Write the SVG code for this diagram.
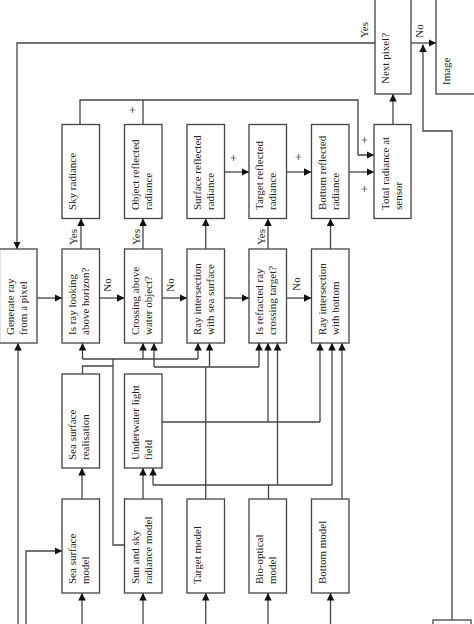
<svg xmlns="http://www.w3.org/2000/svg" width="474" height="624" viewBox="0 0 474 624">
<style>
.b{fill:#fff;stroke:#444;stroke-width:1.3}
.c{fill:none;stroke:#444;stroke-width:1.3}
.a{marker-end:url(#ah)}
text{font-family:"Liberation Serif","Times New Roman",serif;font-size:11px;fill:#222}
.m{text-anchor:middle}
.p{text-anchor:middle;font-size:12.5px}
</style>
<defs>
<marker id="ah" viewBox="0 0 8 8" refX="8" refY="4" markerWidth="7.5" markerHeight="7.5" markerUnits="userSpaceOnUse" orient="auto">
<path d="M0,0 L8,4 L0,8 Z" fill="#111"/>
</marker>
</defs>
<rect width="474" height="624" fill="#fff"/>
<g id="connectors">
<path class="c a" d="M375,43 H17 V249"/>
<path class="c a" d="M411,43 H436"/>
<path class="c a" d="M452,620 V131 H423 V44.5"/>
<path class="c a" d="M393,124.5 V94"/>
<path class="c a" d="M80,124.5 V100 H358 V155 H374"/>
<path class="c" d="M143,124.5 V100"/>
<path class="c a" d="M224.5,172 H249"/>
<path class="c a" d="M286.5,172 H311.5"/>
<path class="c a" d="M349,172 H374"/>
<path class="c a" d="M81,249 V218.5"/>
<path class="c a" d="M143,249 V218.5"/>
<path class="c a" d="M205.75,249 V218.5"/>
<path class="c a" d="M268,249 V218.5"/>
<path class="c a" d="M330.5,249 V218.5"/>
<path class="c a" d="M37,298 H62"/>
<path class="c a" d="M99.5,298 H124.5"/>
<path class="c a" d="M162,298 H187"/>
<path class="c a" d="M224.5,298 H249"/>
<path class="c a" d="M286.5,298 H311.5"/>
<path class="c" d="M124.5,545 H113 V359"/>
<path class="c" d="M82.5,359 H198"/>
<path class="c a" d="M82.5,359 V343"/>
<path class="c a" d="M143,359 V343"/>
<path class="c a" d="M198,359 V343"/>
<path class="c" d="M82.5,374 V366 H113"/>
<path class="c" d="M205.75,499 V367"/>
<path class="c" d="M154,367 H259"/>
<path class="c a" d="M154,367 V343"/>
<path class="c a" d="M209.5,367 V343"/>
<path class="c a" d="M259,367 V343"/>
<path class="c" d="M162,422 H320"/>
<path class="c a" d="M268,422 V343"/>
<path class="c a" d="M320,422 V343"/>
<path class="c" d="M268.5,499 V485"/>
<path class="c" d="M153,485 H332"/>
<path class="c a" d="M153,485 V468"/>
<path class="c a" d="M277.5,485 V343"/>
<path class="c a" d="M332,485 V343"/>
<path class="c a" d="M342,499 V343"/>
<path class="c a" d="M82,499 V468"/>
<path class="c a" d="M143,499 V468"/>
<path class="c a" d="M82,624 V593"/>
<path class="c a" d="M143,624 V593"/>
<path class="c a" d="M205.75,624 V593"/>
<path class="c a" d="M268,624 V593"/>
<path class="c a" d="M330.5,624 V593"/>
<path class="c a" d="M18,624 V343"/>
<path class="c a" d="M26,624 V551 H62"/>
<text transform="translate(368,30) rotate(-90)" class="m">Yes</text>
<text transform="translate(423,31) rotate(-90)" class="m">No</text>
<text transform="translate(77,237) rotate(-90)" class="m">Yes</text>
<text transform="translate(140,237) rotate(-90)" class="m">Yes</text>
<text transform="translate(265,237) rotate(-90)" class="m">Yes</text>
<text transform="translate(111,285) rotate(-90)" class="m">No</text>
<text transform="translate(174,285) rotate(-90)" class="m">No</text>
<text transform="translate(300,284) rotate(-90)" class="m">No</text>
<text transform="translate(137,110) rotate(-90)" class="p">+</text>
<text transform="translate(238,158) rotate(-90)" class="p">+</text>
<text transform="translate(303,157) rotate(-90)" class="p">+</text>
<text transform="translate(369,140) rotate(-90)" class="p">+</text>
<text transform="translate(369,189) rotate(-90)" class="p">+</text>
</g>
<g id="sky-radiance"><rect class="b" x="62" y="124.5" width="37.5" height="94"/><text transform="translate(76,210) rotate(-90)">Sky radiance</text></g>
<g id="object-reflected"><rect class="b" x="124.5" y="124.5" width="37.5" height="94"/><text transform="translate(139,210) rotate(-90)"><tspan x="0" y="0">Object reflected</tspan><tspan x="0" y="13">radiance</tspan></text></g>
<g id="surface-reflected"><rect class="b" x="187" y="124.5" width="37.5" height="94"/><text transform="translate(201,210) rotate(-90)"><tspan x="0" y="0">Surface reflected</tspan><tspan x="0" y="13">radiance</tspan></text></g>
<g id="target-reflected"><rect class="b" x="249" y="124.5" width="37.5" height="94"/><text transform="translate(263,210) rotate(-90)"><tspan x="0" y="0">Target reflected</tspan><tspan x="0" y="13">radiance</tspan></text></g>
<g id="bottom-reflected"><rect class="b" x="311.5" y="124.5" width="37.5" height="94"/><text transform="translate(325.5,210) rotate(-90)"><tspan x="0" y="0">Bottom reflected</tspan><tspan x="0" y="13">radiance</tspan></text></g>
<g id="total-radiance"><rect class="b" x="374" y="124.5" width="37" height="94"/><text transform="translate(388.5,210) rotate(-90)"><tspan x="0" y="0">Total radiance at</tspan><tspan x="0" y="13">sensor</tspan></text></g>
<g id="next-pixel"><rect class="b" x="375" y="-2" width="36" height="96"/><text transform="translate(389,84) rotate(-90)">Next pixel?</text></g>
<g id="image"><rect class="b" x="436" y="-2" width="45" height="96"/><text transform="translate(450,85) rotate(-90)">Image</text></g>
<g id="generate-ray"><rect class="b" x="-0.5" y="249" width="37.5" height="94"/><text transform="translate(13.5,335) rotate(-90)"><tspan x="0" y="0">Generate  ray</tspan><tspan x="0" y="13">from a pixel</tspan></text></g>
<g id="above-horizon"><rect class="b" x="62" y="249" width="37.5" height="94"/><text transform="translate(76,335) rotate(-90)"><tspan x="0" y="0">Is ray looking</tspan><tspan x="0" y="13">above horizon?</tspan></text></g>
<g id="above-water-object"><rect class="b" x="124.5" y="249" width="37.5" height="94"/><text transform="translate(139,335) rotate(-90)"><tspan x="0" y="0">Crossing above</tspan><tspan x="0" y="13">water object?</tspan></text></g>
<g id="sea-surface-intersection"><rect class="b" x="187" y="249" width="37.5" height="94"/><text transform="translate(201,335) rotate(-90)"><tspan x="0" y="0">Ray intersection</tspan><tspan x="0" y="13">with sea surface</tspan></text></g>
<g id="crossing-target"><rect class="b" x="249" y="249" width="37.5" height="94"/><text transform="translate(263,335) rotate(-90)"><tspan x="0" y="0">Is refracted ray</tspan><tspan x="0" y="13">crossing target?</tspan></text></g>
<g id="bottom-intersection"><rect class="b" x="311.5" y="249" width="37.5" height="94"/><text transform="translate(325.5,335) rotate(-90)"><tspan x="0" y="0">Ray intersection</tspan><tspan x="0" y="13">with bottom</tspan></text></g>
<g id="sea-surface-realisation"><rect class="b" x="62" y="374" width="37.5" height="94"/><text transform="translate(76,460) rotate(-90)"><tspan x="0" y="0">Sea surface</tspan><tspan x="0" y="13">realisation</tspan></text></g>
<g id="underwater-light-field"><rect class="b" x="124.5" y="374" width="37.5" height="94"/><text transform="translate(139,460) rotate(-90)"><tspan x="0" y="0">Underwater light</tspan><tspan x="0" y="13">field</tspan></text></g>
<g id="sea-surface-model"><rect class="b" x="62" y="499" width="37.5" height="94"/><text transform="translate(76,584) rotate(-90)"><tspan x="0" y="0">Sea surface</tspan><tspan x="0" y="13">model</tspan></text></g>
<g id="sun-sky-model"><rect class="b" x="124.5" y="499" width="37.5" height="94"/><text transform="translate(139,584) rotate(-90)"><tspan x="0" y="0">Sun and sky</tspan><tspan x="0" y="13">radiance model</tspan></text></g>
<g id="target-model"><rect class="b" x="187" y="499" width="37.5" height="94"/><text transform="translate(201,584) rotate(-90)">Target model</text></g>
<g id="bio-optical-model"><rect class="b" x="249" y="499" width="37.5" height="94"/><text transform="translate(263,584) rotate(-90)"><tspan x="0" y="0">Bio-optical</tspan><tspan x="0" y="13">model</tspan></text></g>
<g id="bottom-model"><rect class="b" x="311.5" y="499" width="37.5" height="94"/><text transform="translate(325.5,584) rotate(-90)">Bottom model</text></g>
<g id="output-box"><rect class="b" x="433" y="620" width="38" height="10"/></g>
</svg>
